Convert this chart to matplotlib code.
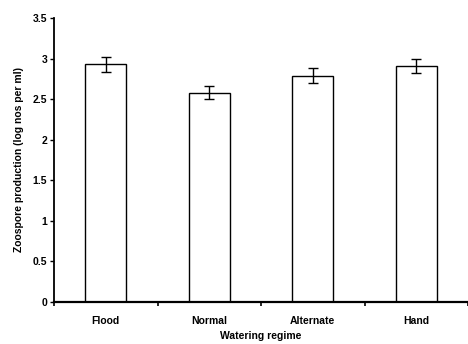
import numpy as np
import matplotlib.pyplot as plt

regimes = ["Flood", "Normal", "Alternate", "Hand"]
means = [2.93, 2.58, 2.79, 2.91]
errs = [0.09, 0.08, 0.09, 0.085]
yticks = [0, 0.5, 1, 1.5, 2, 2.5, 3, 3.5]
ytick_labels = ["0", "0.5", "1", "1.5", "2", "2.5", "3", "3.5"]

plt.rcParams['font.family'] = ['Liberation Sans', 'DejaVu Sans']

fig = plt.figure(figsize=(4.68, 3.44), dpi=100)
ax = fig.add_axes([54 / 468, 42 / 344, 414 / 468, 284 / 344])

x = np.arange(len(regimes))
ax.bar(x, means, width=0.4, color="white", edgecolor="black", linewidth=1.0)
ax.errorbar(x, means, yerr=errs, fmt="none", ecolor="black", elinewidth=1.0,
            capsize=3.5, capthick=1.0)

ax.set_xlim(-0.5, 3.48)
ax.set_ylim(0, 3.5)
ax.set_yticks(yticks)
ax.set_yticklabels(ytick_labels, fontsize=7.5, fontweight="bold")

# category labels centred, ticks on the boundaries
ax.set_xticks(x)
ax.set_xticklabels(regimes, fontsize=7.5, fontweight="bold")
ax.tick_params(axis="x", length=0, pad=10)
ax.set_xticks(np.arange(-0.5, 4, 1), minor=True)
ax.tick_params(axis="x", which="minor", length=3, width=1.2, direction="out")
ax.tick_params(axis="y", length=3, width=1, direction="out", pad=2)

ax.spines["top"].set_visible(False)
ax.spines["right"].set_visible(False)
ax.spines["left"].set_linewidth(1.3)
ax.spines["bottom"].set_linewidth(1.6)

ax.set_xlabel("Watering regime", fontsize=7.5, fontweight="bold", labelpad=4)
ax.set_ylabel("Zoospore production (log nos per ml)", fontsize=7.5,
              fontweight="bold", labelpad=6)

fig.savefig("out.png", dpi=100)
